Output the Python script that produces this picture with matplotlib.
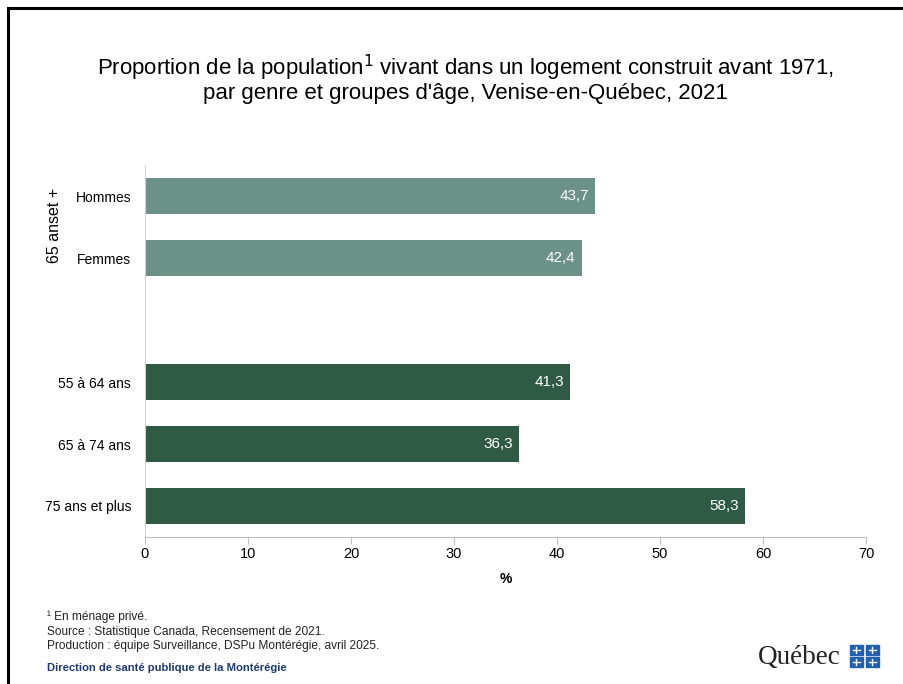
import matplotlib.pyplot as plt
from matplotlib.patches import Rectangle

categories = ["Hommes", "Femmes", "", "55 à 64 ans", "65 à 74 ans", "75 ans et plus"]
values = [43.7, 42.4, None, 41.3, 36.3, 58.3]
groups = ["65+", "65+", None, "age", "age", "age"]
xticks = [0, 10, 20, 30, 40, 50, 60, 70]

colors = {"65+": "#6b9189", "age": "#2f5a46"}

plt.rcParams['font.family'] = ['Liberation Sans', 'DejaVu Sans']

fig = plt.figure(figsize=(9.04, 6.84), dpi=100)
W, H = 904, 684
ax = fig.add_axes([145 / W, 1 - 537 / H, (866 - 145) / W, (537 - 165) / H])

for i, (v, g) in enumerate(zip(values, groups)):
    if v is None:
        continue
    ax.barh(i, v, height=0.57, color=colors[g])
    ax.text(v - 0.6, i, f"{v:.1f}".replace(".", ","), ha="right", va="center",
            color="white", fontsize=11)

ax.set_ylim(len(categories) - 0.5, -0.5)
ax.set_xlim(0, 70)
ax.set_xticks(xticks)
ax.set_yticks([i for i, c in enumerate(categories) if c])
ax.set_yticklabels([c for c in categories if c], fontsize=10)
ax.tick_params(axis="y", length=0, pad=10)
ax.tick_params(axis="x", length=5, color="#bfbfbf", labelsize=10.5, pad=2)
for s in ["top", "right"]:
    ax.spines[s].set_visible(False)
ax.spines["left"].set_color("#d0d0d0")
ax.spines["bottom"].set_color("#bfbfbf")
ax.set_xlabel("%", fontsize=10, fontweight="bold", labelpad=8)

fig.text(55 / W, 1 - 225 / H, "65 anset +", rotation=90, ha="center", va="center", fontsize=11.5)

fig.text(465 / W, 1 - 68 / H, "Proportion de la population$^{1}$ vivant dans un logement construit avant 1971,",
         ha="center", va="center", fontsize=16)
fig.text(465 / W, 1 - 94 / H, "par genre et groupes d'âge, Venise-en-Québec, 2021",
         ha="center", va="center", fontsize=16)

fig.text(47 / W, 1 - 617 / H, "¹ En ménage privé.", fontsize=8.6, va="center", color="#222222")
fig.text(47 / W, 1 - 632 / H, "Source : Statistique Canada, Recensement de 2021.", fontsize=8.6, va="center", color="#222222")
fig.text(47 / W, 1 - 646 / H, "Production : équipe Surveillance, DSPu Montérégie, avril 2025.", fontsize=8.6, va="center", color="#222222")
fig.text(47 / W, 1 - 668 / H, "Direction de santé publique de la Montérégie", fontsize=8.1, va="center",
         color="#1f3a73", fontweight="bold")

fig.text(758 / W, 1 - 657 / H, "Québec", fontsize=19.5, va="center", ha="left", color="#222222",
         family=['Liberation Serif', 'DejaVu Serif'])
for (x0, y0) in [(850, 645), (866, 645), (850, 657), (866, 657)]:
    fig.patches.append(Rectangle((x0 / W, 1 - (y0 + 10) / H), 13 / W, 10 / H,
                                 transform=fig.transFigure, color="#1f5fb4"))
    fig.lines.append(plt.Line2D([(x0 + 3) / W, (x0 + 10) / W], [1 - (y0 + 5) / H] * 2,
                                transform=fig.transFigure, color="white", lw=1))
    fig.lines.append(plt.Line2D([(x0 + 6.5) / W] * 2, [1 - (y0 + 2) / H, 1 - (y0 + 8) / H],
                                transform=fig.transFigure, color="white", lw=1))

fig.patches.append(Rectangle((8 / W, -0.05), 1.2, 1 - 8 / H + 0.05, transform=fig.transFigure,
                             fill=False, edgecolor="black", lw=2.2))

fig.savefig("out.png", dpi=100)
